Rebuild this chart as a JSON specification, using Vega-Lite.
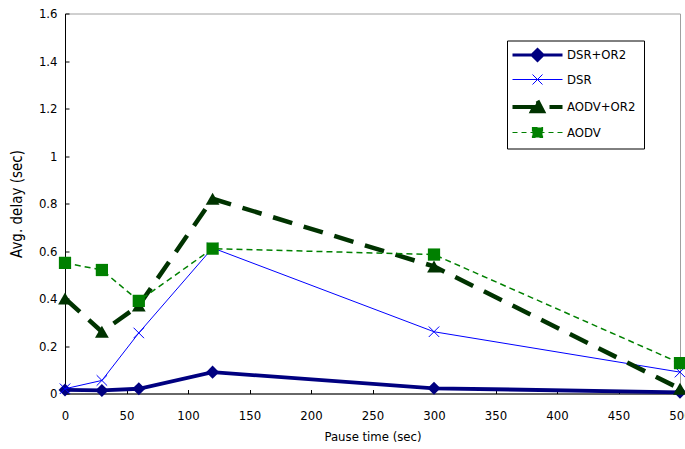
{
  "$schema": "https://vega.github.io/schema/vega-lite/v6.json",
  "width": 615,
  "height": 380,
  "autosize": {"type": "none"},
  "padding": {"left": 65, "top": 13.5, "right": 5, "bottom": 55.5},
  "background": "white",
  "config": {
    "view": {"stroke": "#a0a0a0", "strokeWidth": 1},
    "font": "Liberation Sans Narrow, DejaVu Sans Condensed, sans-serif",
    "axis": {
      "labelFont": "Liberation Sans Narrow, DejaVu Sans Condensed, sans-serif",
      "titleFont": "Liberation Sans Narrow, DejaVu Sans Condensed, sans-serif",
      "labelColor": "black",
      "titleColor": "black",
      "domainColor": "black",
      "tickColor": "black",
      "grid": false,
      "titleFontWeight": "normal",
      "labelFontSize": 13,
      "titleFontSize": 13
    }
  },
  "data": {
    "values": [
      {"x": 0, "y": 0.015, "s": "DSR+OR2"},
      {"x": 30, "y": 0.013, "s": "DSR+OR2"},
      {"x": 60, "y": 0.02, "s": "DSR+OR2"},
      {"x": 120, "y": 0.09, "s": "DSR+OR2"},
      {"x": 300, "y": 0.022, "s": "DSR+OR2"},
      {"x": 500, "y": 0.005, "s": "DSR+OR2"},
      {"x": 0, "y": 0.02, "s": "DSR"},
      {"x": 30, "y": 0.055, "s": "DSR"},
      {"x": 60, "y": 0.255, "s": "DSR"},
      {"x": 120, "y": 0.613, "s": "DSR"},
      {"x": 300, "y": 0.26, "s": "DSR"},
      {"x": 500, "y": 0.09, "s": "DSR"},
      {"x": 0, "y": 0.4, "s": "AODV+OR2"},
      {"x": 30, "y": 0.26, "s": "AODV+OR2"},
      {"x": 60, "y": 0.37, "s": "AODV+OR2"},
      {"x": 120, "y": 0.82, "s": "AODV+OR2"},
      {"x": 300, "y": 0.535, "s": "AODV+OR2"},
      {"x": 500, "y": 0.02, "s": "AODV+OR2"},
      {"x": 0, "y": 0.55, "s": "AODV"},
      {"x": 30, "y": 0.52, "s": "AODV"},
      {"x": 60, "y": 0.39, "s": "AODV"},
      {"x": 120, "y": 0.61, "s": "AODV"},
      {"x": 300, "y": 0.585, "s": "AODV"},
      {"x": 500, "y": 0.128, "s": "AODV"}
    ]
  },
  "encoding": {
    "x": {
      "field": "x", "type": "quantitative",
      "scale": {"domain": [0, 500], "nice": false, "zero": false},
      "axis": {"title": "Pause time (sec)", "values": [0,50,100,150,200,250,300,350,400,450,500], "tickSize": -4, "labelPadding": 20, "titlePadding": 8, "labelFlush": false, "labelOverlap": false}
    },
    "y": {
      "field": "y", "type": "quantitative",
      "scale": {"domain": [0, 1.6], "nice": false},
      "axis": {"title": "Avg. delay (sec)", "values": [0,0.2,0.4,0.6,0.8,1,1.2,1.4,1.6], "format": "~g", "tickSize": -4, "labelPadding": 12, "titlePadding": 14, "labelFlush": false, "titleFontSize": 15}
    }
  },
  "layer": [
    {
      "transform": [{"filter": "datum.s === 'DSR+OR2'"}],
      "mark": {"type": "line", "strokeWidth": 3.8},
      "encoding": {
        "color": {
          "field": "s", "type": "nominal",
          "scale": {"domain": ["DSR+OR2", "DSR", "AODV+OR2", "AODV"], "range": ["#000080", "#0000ff", "#003300", "#008000"]},
          "legend": {
            "orient": "none", "legendX": 442, "legendY": 27,
            "title": null, "symbolSize": 2500, "symbolType": "stroke",
            "strokeColor": "black", "fillColor": "white", "padding": 8, "rowPadding": 5.5,
            "symbolOffset": 16, "labelOffset": 23,
            "labelFont": "Liberation Sans Narrow, DejaVu Sans Condensed, sans-serif",
            "labelFontSize": 13, "labelColor": "black",
            "encode": {
              "symbols": {
                "update": {
                  "shape": {"signal": "datum.value === 'DSR+OR2' ? 'M-1,0H1M0,-0.22L0.22,0L0,0.22L-0.22,0Z' : datum.value === 'DSR' ? 'M-1,0H1M-0.2,-0.2L0.2,0.2M-0.2,0.2L0.2,-0.2' : datum.value === 'AODV+OR2' ? 'M-1,0H1M0,-0.25L0.22,0.17L-0.22,0.17Z' : 'M-1,0H1M-0.2,-0.2H0.2V0.2H-0.2Z'"},
                  "fill": {"signal": "datum.value === 'DSR+OR2' ? '#000080' : datum.value === 'DSR' ? 'transparent' : datum.value === 'AODV+OR2' ? '#003300' : '#008000'"},
                  "stroke": {"signal": "datum.value === 'DSR+OR2' ? '#000080' : datum.value === 'DSR' ? '#0000ff' : datum.value === 'AODV+OR2' ? '#003300' : '#008000'"},
                  "strokeWidth": {"signal": "datum.value === 'DSR+OR2' ? 3 : datum.value === 'DSR' ? 1 : datum.value === 'AODV+OR2' ? 4 : 1.2"},
                  "strokeDash": {"signal": "datum.value === 'AODV+OR2' ? [28, 9] : datum.value === 'AODV' ? [5, 4] : []"},
                  "opacity": {"value": 1}
                }
              }
            }
          }
        }
      }
    },
    {
      "transform": [{"filter": "datum.s === 'DSR+OR2'"}],
      "mark": {"type": "point", "shape": "diamond", "filled": true, "size": 170, "color": "#000080", "opacity": 1}
    },
    {
      "transform": [{"filter": "datum.s === 'DSR'"}],
      "mark": {"type": "line", "strokeWidth": 1},
      "encoding": {"color": {"field": "s", "type": "nominal"}}
    },
    {
      "transform": [{"filter": "datum.s === 'DSR'"}],
      "mark": {"type": "point", "shape": "M-1,-1L1,1M-1,1L1,-1", "filled": false, "size": 110, "strokeWidth": 1, "color": "#0000ff", "opacity": 1}
    },
    {
      "transform": [{"filter": "datum.s === 'AODV+OR2'"}],
      "mark": {"type": "line", "strokeWidth": 4.5, "strokeDash": [20, 12]},
      "encoding": {"color": {"field": "s", "type": "nominal"}}
    },
    {
      "transform": [{"filter": "datum.s === 'AODV+OR2'"}],
      "mark": {"type": "point", "shape": "triangle-up", "filled": true, "size": 190, "color": "#003300", "opacity": 1}
    },
    {
      "transform": [{"filter": "datum.s === 'AODV'"}],
      "mark": {"type": "line", "strokeWidth": 1.5, "strokeDash": [6, 4]},
      "encoding": {"color": {"field": "s", "type": "nominal"}}
    },
    {
      "transform": [{"filter": "datum.s === 'AODV'"}],
      "mark": {"type": "point", "shape": "square", "filled": true, "size": 150, "color": "#008000", "opacity": 1}
    }
  ]
}
